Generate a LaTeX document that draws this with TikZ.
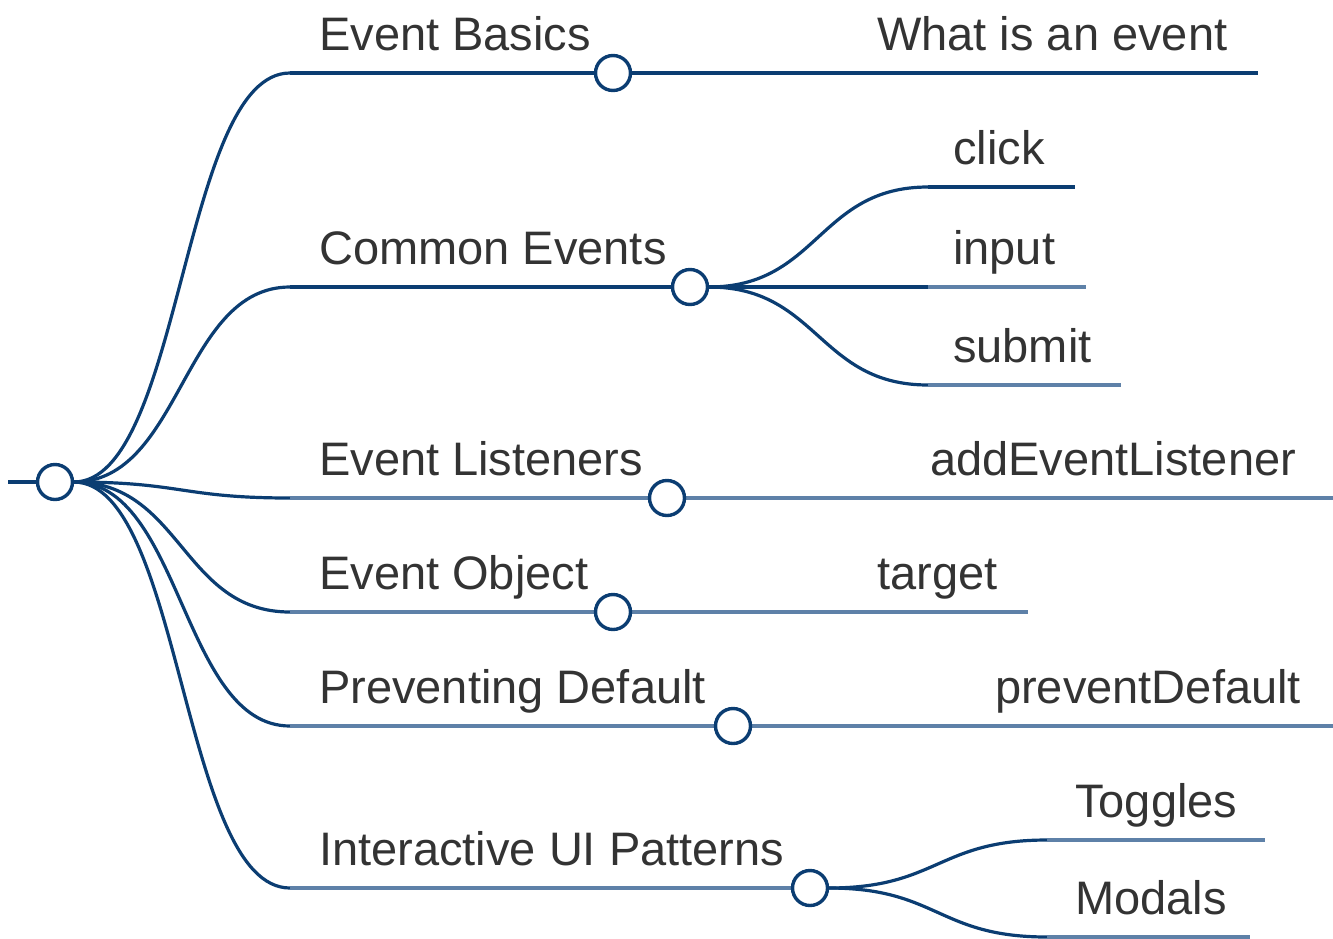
\documentclass[tikz,border=0pt]{standalone}
\usepackage{fontspec}
\setmainfont{Liberation Sans}
\usetikzlibrary{calc}
\definecolor{navy}{HTML}{0B3D72}
\definecolor{steel}{HTML}{5E81A8}
\definecolor{ink}{HTML}{333333}
\tikzset{
  hlink/.style={to path={let \p1=(\tikztostart), \p2=(\tikztotarget) in
      .. controls ({(\x1+\x2)/2},\y1) and ({(\x1+\x2)/2},\y2) .. (\tikztotarget)}},
  link/.style={draw=navy, line width=3.2pt, hlink},
  bar/.style={draw=navy, line width=3.4pt},
  softbar/.style={draw=steel, line width=3.4pt},
  knob/.style={circle, draw=navy, fill=white, line width=3.4pt,
      minimum size=34pt, inner sep=0pt},
  lbl/.style={anchor=base west, inner sep=0pt, text=ink,
      font=\fontsize{47}{56}\selectfont},
}
\begin{document}
\begin{tikzpicture}[x=1pt, y=-1pt]
\useasboundingbox (0,0) rectangle (1333,938);

% root
\coordinate (stem) at (8,482);
\node[knob] (root) at (55,482) {};

% first-level branch starts and their knobs
\coordinate (b1) at (290,73);
\coordinate (b2) at (290,287);
\coordinate (b3) at (290,498);
\coordinate (b4) at (290,612);
\coordinate (b5) at (290,726);
\coordinate (b6) at (290,888);
\node[knob] (k1) at (613,73) {};
\node[knob] (k2) at (690,287) {};
\node[knob] (k3) at (667,498) {};
\node[knob] (k4) at (613,612) {};
\node[knob] (k5) at (733,726) {};
\node[knob] (k6) at (810,888) {};

% leaf starts and ends
\coordinate (j1)  at (850,73);   \coordinate (e1)  at (1258,73);
\coordinate (j21) at (928,187);  \coordinate (e21) at (1075,187);
\coordinate (j22) at (928,287);  \coordinate (e22) at (1086,287);
\coordinate (j23) at (928,385);  \coordinate (e23) at (1121,385);
\coordinate (j3)  at (900,498);  \coordinate (e3)  at (1333,498);
\coordinate (j4)  at (850,612);  \coordinate (e4)  at (1028,612);
\coordinate (j5)  at (969,726);  \coordinate (e5)  at (1333,726);
\coordinate (j61) at (1047,840); \coordinate (e61) at (1265,840);
\coordinate (j62) at (1047,937); \coordinate (e62) at (1250,937);

% root stem and curved links to the branches
\draw[bar] (stem) -- (root.west);
\foreach \b in {b1,b2,b3,b4,b5,b6}
  \draw[link] (root.east) to (\b);

% branch underlines
\draw[bar] (b1) -- (k1.west);
\draw[bar] (b2) -- (k2.west);
\draw[softbar] (b3) -- (k3.west);
\draw[softbar] (b4) -- (k4.west);
\draw[softbar] (b5) -- (k5.west);
\draw[softbar] (b6) -- (k6.west);

% links from knobs to leaves
\draw[bar] (k1.east) -- (j1);
\draw[link] (k2.east) to (j21);
\draw[link] (k2.east) to (j22);
\draw[link] (k2.east) to (j23);
\draw[softbar] (k3.east) -- (j3);
\draw[softbar] (k4.east) -- (j4);
\draw[softbar] (k5.east) -- (j5);
\draw[link] (k6.east) to (j61);
\draw[link] (k6.east) to (j62);

% leaf underlines
\draw[bar] (j1) -- (e1);
\draw[bar] (j21) -- (e21);
\draw[softbar] (j22) -- (e22);
\draw[softbar] (j23) -- (e23);
\draw[softbar] (j3) -- (e3);
\draw[softbar] (j4) -- (e4);
\draw[softbar] (j5) -- (e5);
\draw[softbar] (j61) -- (e61);
\draw[softbar] (j62) -- (e62);

% redraw knobs on top
\foreach \k in {root,k1,k2,k3,k4,k5,k6}
  \draw[navy, line width=3.4pt, fill=white] (\k) circle (17.5pt);

% labels
\node[lbl] (t1) at (319,50)  {Event Basics};
\node[lbl] (t2) at (319,264) {Common Events};
\node[lbl] (t3) at (319,475) {Event Listeners};
\node[lbl] (t4) at (319,589) {Event Object};
\node[lbl] (t5) at (319,703) {Preventing Default};
\node[lbl] (t6) at (319,865) {Interactive UI Patterns};

\node[lbl] (u1)  at (877,50)   {What is an event};
\node[lbl] (u21) at (953,164)  {click};
\node[lbl] (u22) at (953,264)  {input};
\node[lbl] (u23) at (953,362)  {submit};
\node[lbl] (u3)  at (930,475)  {addEventListener};
\node[lbl] (u4)  at (877,589)  {target};
\node[lbl] (u5)  at (995,703)  {preventDefault};
\node[lbl] (u61) at (1075,817) {Toggles};
\node[lbl] (u62) at (1075,914) {Modals};
\end{tikzpicture}
\end{document}
